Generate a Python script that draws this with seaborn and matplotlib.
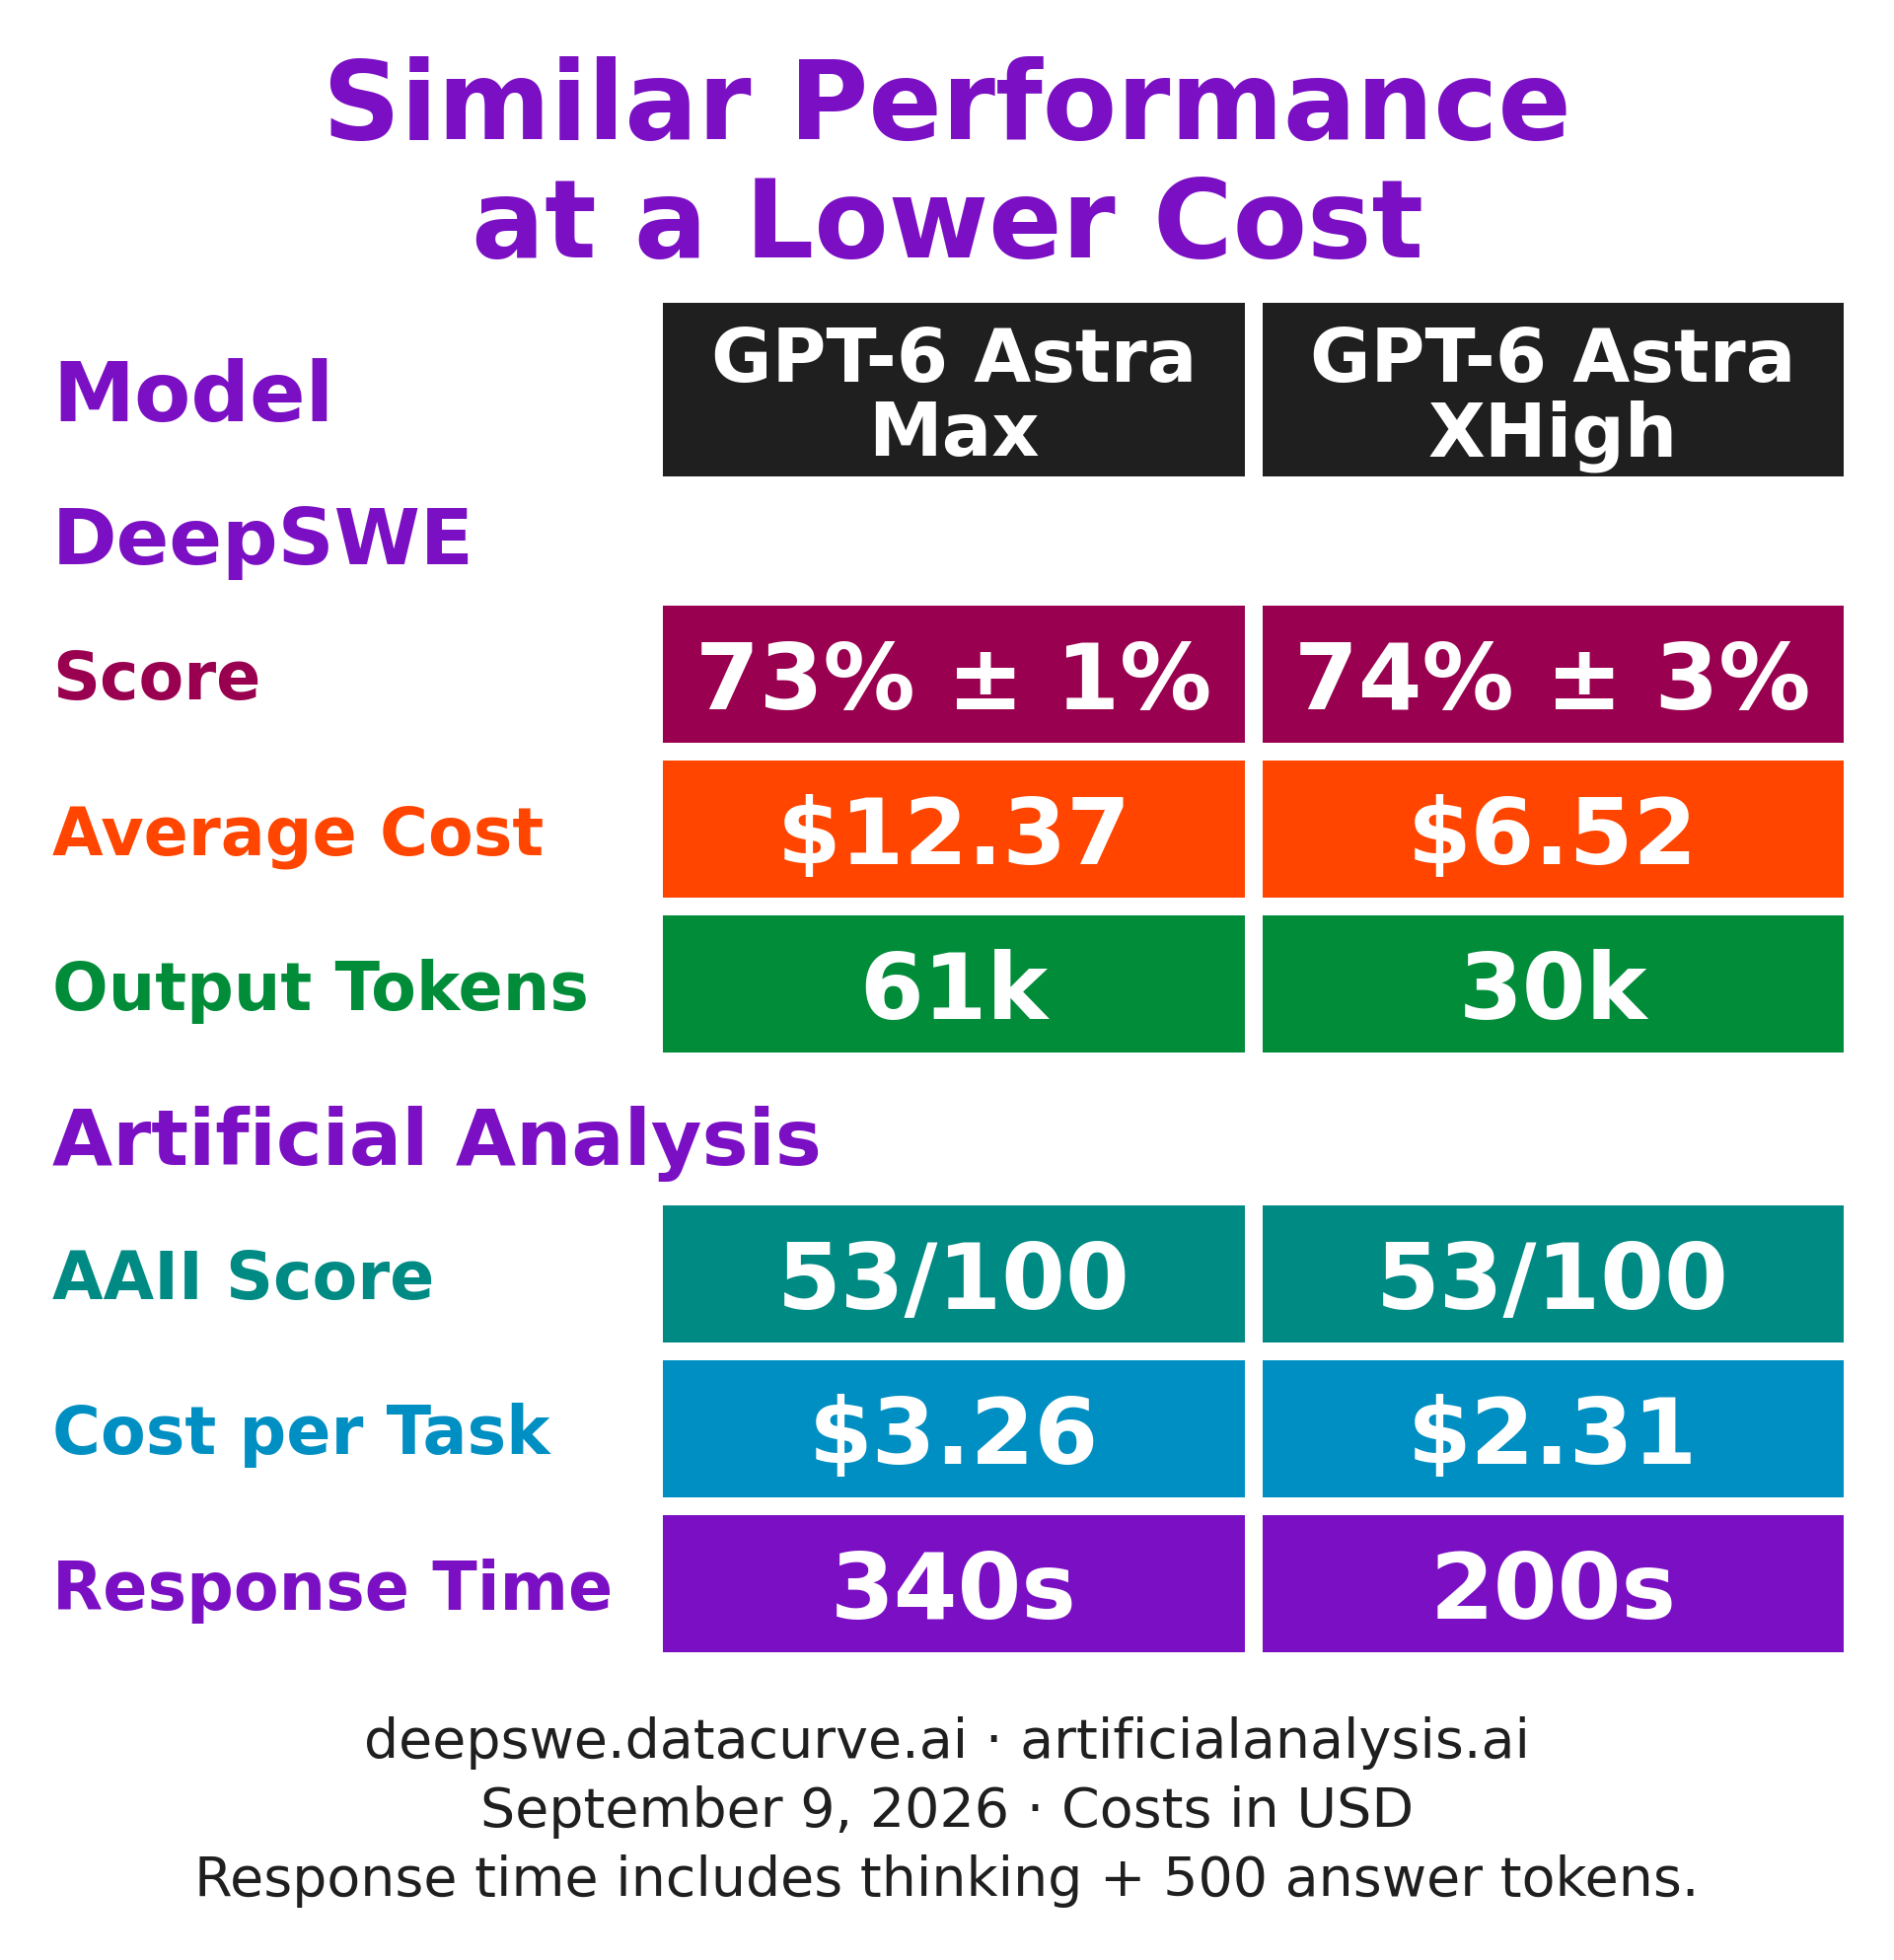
import numpy as np
import pandas as pd
import matplotlib
matplotlib.use("Agg")
import matplotlib.pyplot as plt
import matplotlib.transforms as mtransforms
from matplotlib.colors import ListedColormap
import seaborn as sns

# ---------------- data ----------------
title_lines = ["Similar Performance", "at a Lower Cost"]
models = ["GPT-6 Astra\nMax", "GPT-6 Astra\nXHigh"]

deepswe_metrics = ["Score", "Average Cost", "Output Tokens"]
deepswe_max = ["73% ± 1%", "$12.37", "61k"]
deepswe_xhigh = ["74% ± 3%", "$6.52", "30k"]
deepswe_colors = ["#99004F", "#FF4500", "#008C38"]

aa_metrics = ["AAII Score", "Cost per Task", "Response Time"]
aa_max = ["53/100", "$3.26", "340s"]
aa_xhigh = ["53/100", "$2.31", "200s"]
aa_colors = ["#008A84", "#008FC2", "#7A0FC4"]

header_color = "#1F1F1F"
accent = "#7A0FC4"
footer_lines = [
    "deepswe.datacurve.ai · artificialanalysis.ai",
    "September 9, 2026 · Costs in USD",
    "Response time includes thinking + 500 answer tokens.",
]

# ---------------- layout (pixels) ----------------
W, H, DPI = 1920, 1987, 100
sns.set_theme(style="white")
plt.rcParams["font.family"] = ["DejaVu Sans"]

fig = plt.figure(figsize=(W / DPI, H / DPI), dpi=DPI)
fig.patch.set_facecolor("white")

gap = 18                      # white gap between cells (px)
lw_pt = gap * 72 / DPI
col_left, col_right = 672, 1869
label_x = 53 / W


def add_block(top_px, n_rows, row_h):
    """Axes whose cells (minus half-gap borders) start at top_px."""
    left = col_left - gap / 2
    width = col_right - col_left + gap
    height = n_rows * (row_h + gap)
    bottom_px = top_px - gap / 2 + height
    return fig.add_axes([left / W, 1 - bottom_px / H, width / W, height / H])


def draw_block(ax, values_a, values_b, colors, fontsize, linespacing=1.2):
    n = len(values_a)
    codes = pd.DataFrame({"a": np.arange(n), "b": np.arange(n)})
    annot = np.array([values_a, values_b]).T
    sns.heatmap(codes, ax=ax, cmap=ListedColormap(colors), vmin=-0.5,
                vmax=n - 0.5, cbar=False, annot=annot, fmt="",
                linewidths=lw_pt, linecolor="white",
                xticklabels=False, yticklabels=False,
                annot_kws=dict(fontsize=fontsize, fontweight="bold",
                               color="white", va="center_baseline",
                               linespacing=linespacing))
    ax.set_xlabel("")
    ax.set_ylabel("")
    for s in ax.spines.values():
        s.set_visible(False)


def row_label(ax, row, text, color, fontsize):
    tr = mtransforms.blended_transform_factory(fig.transFigure, ax.transData)
    ax.text(label_x, row + 0.5, text, transform=tr, ha="left",
            va="center_baseline", fontsize=fontsize, fontweight="bold",
            color=color, clip_on=False)


# title
fig.text(0.5, 1 - 141 / H, title_lines[0], ha="center", va="baseline",
         fontsize=79, fontweight="bold", color=accent)
fig.text(0.5, 1 - 261 / H, title_lines[1], ha="center", va="baseline",
         fontsize=79, fontweight="bold", color=accent)

# header block
ax_h = add_block(307, 1, 176)
draw_block(ax_h, [models[0]], [models[1]], [header_color], 54, linespacing=1.04)
row_label(ax_h, 0, "Model", accent, 60)

# DeepSWE block
ax_d = add_block(614, 3, 139)
draw_block(ax_d, deepswe_max, deepswe_xhigh, deepswe_colors, 67)
for i, (m, c) in enumerate(zip(deepswe_metrics, deepswe_colors)):
    row_label(ax_d, i, m, c, 48)
fig.text(label_x, 1 - 542 / H, "DeepSWE", ha="left", va="center_baseline",
         fontsize=57, fontweight="bold", color=accent)

# Artificial Analysis block
ax_a = add_block(1222, 3, 139)
draw_block(ax_a, aa_max, aa_xhigh, aa_colors, 67)
for i, (m, c) in enumerate(zip(aa_metrics, aa_colors)):
    row_label(ax_a, i, m, c, 48)
fig.text(label_x, 1 - 1151 / H, "Artificial Analysis", ha="left",
         va="center_baseline", fontsize=57, fontweight="bold", color=accent)

# footer
for y, line in zip([1782, 1852, 1922], footer_lines):
    fig.text(0.5, 1 - y / H, line, ha="center", va="baseline",
             fontsize=40, color="#1F1F1F")

fig.savefig("out.png", dpi=DPI, facecolor="white")
